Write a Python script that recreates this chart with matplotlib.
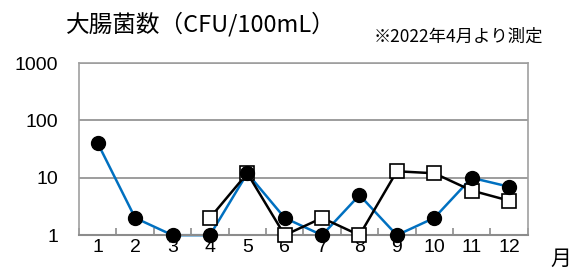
import numpy as np
import matplotlib.pyplot as plt

plt.rcParams['font.family'] = ['Noto Sans CJK JP', 'DejaVu Sans']
num_font = ['Liberation Sans Narrow', 'Liberation Sans', 'Noto Sans CJK JP']

# monthly values
months = np.arange(1, 13)
circle_vals = [40, 2, 1, 1, 12, 2, 1, 5, 1, 2, 10, 7]
square_months = np.arange(4, 13)
square_vals = [2, 12, 1, 2, 1, 13, 12, 6, 4]
ytick_vals = [1, 10, 100, 1000]

fig = plt.figure(figsize=(5.73, 2.79), dpi=100)
ax = fig.add_axes([0.138, 0.157, 0.783, 0.617])

ax.plot(square_months, square_vals, color='black', lw=1.8, marker='s', ms=9.5,
        mfc='white', mec='black', mew=1.2, zorder=3, clip_on=False)
ax.plot(months, circle_vals, color='#0070C0', lw=1.8, zorder=2, clip_on=False)
ax.plot(months, circle_vals, ls='none', marker='o', ms=10,
        mfc='black', mec='black', zorder=4, clip_on=False)

ax.set_yscale('log')
ax.set_ylim(1, 1000)
ax.set_xlim(0.5, 12.5)
ax.set_yticks(ytick_vals)
ax.set_yticklabels([str(v) for v in ytick_vals], fontsize=14, family=num_font)
ax.minorticks_off()
ax.yaxis.set_tick_params(length=0, pad=15)
for v in ytick_vals[1:]:
    ax.axhline(v, color='#8c8c8c', lw=1.2, zorder=1)

# category ticks between months, labels centred
ax.set_xticks(np.arange(0.5, 13, 1))
ax.set_xticklabels([])
ax.set_xticks(months, minor=True)
ax.set_xticklabels([str(m) for m in months], minor=True, fontsize=14, family=num_font)
ax.tick_params(axis='x', which='major', direction='in', length=5,
               color='#8c8c8c', width=1.2)
ax.tick_params(axis='x', which='minor', length=0, pad=3)

for s in ['left', 'right', 'top']:
    ax.spines[s].set_color('#a0a0a0')
    ax.spines[s].set_linewidth(1.2)
ax.spines['bottom'].set_color('#8c8c8c')
ax.spines['bottom'].set_linewidth(1.5)

fig.text(0.351, 0.915, '大腸菌数（CFU/100mL）', fontsize=17, ha='center', va='center')
fig.text(0.800, 0.868, '※2022年4月より測定', fontsize=12.5, ha='center', va='center')
fig.text(0.978, 0.072, '月', fontsize=15, ha='center', va='center')

fig.savefig('out.png', dpi=100)
